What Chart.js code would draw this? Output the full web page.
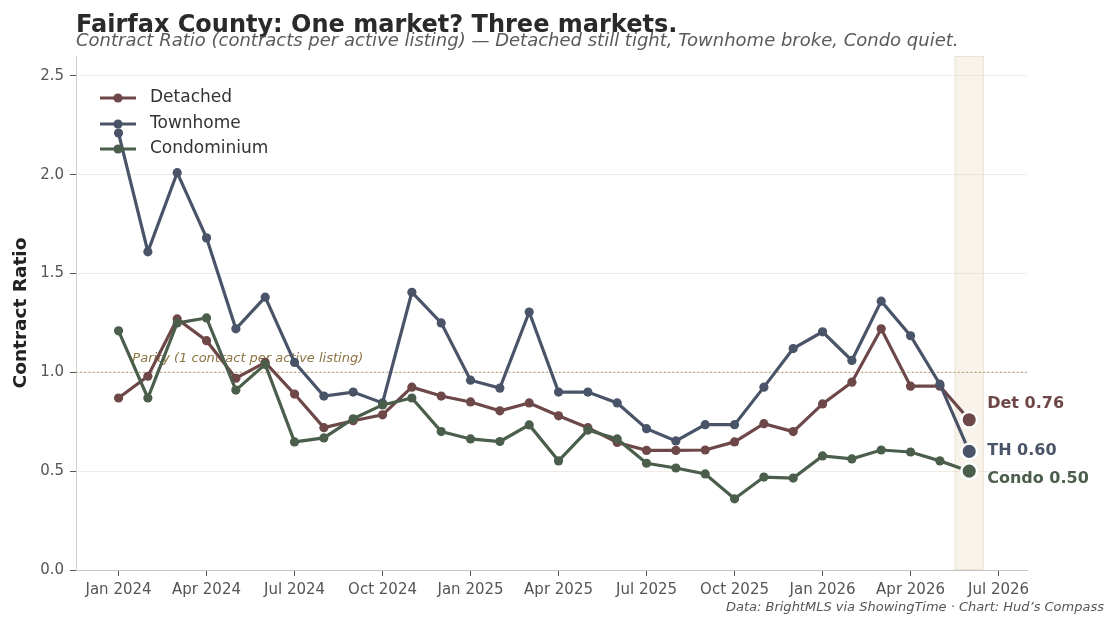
<!DOCTYPE html>
<html><head><meta charset="utf-8">
<script src="https://cdn.jsdelivr.net/npm/chart.js@4.4.1/dist/chart.umd.min.js"></script>
<style>html,body{margin:0;padding:0;background:#fff;}#wrap{width:1117px;height:626px;}</style>
</head><body><div id="wrap"><canvas id="c" width="1117" height="626"></canvas></div>
<script>
// Months Jan 2024 .. Jun 2026 (index 0..29)
const months = ['2024-01','2024-02','2024-03','2024-04','2024-05','2024-06','2024-07','2024-08','2024-09','2024-10','2024-11','2024-12',
  '2025-01','2025-02','2025-03','2025-04','2025-05','2025-06','2025-07','2025-08','2025-09','2025-10','2025-11','2025-12',
  '2026-01','2026-02','2026-03','2026-04','2026-05','2026-06'];
const detached = [0.87,0.98,1.27,1.16,0.97,1.05,0.89,0.72,0.755,0.785,0.925,0.88,0.85,0.805,0.845,0.78,0.72,0.645,0.605,0.605,0.607,0.648,0.74,0.70,0.84,0.95,1.22,0.93,0.93,0.76];
const townhome = [2.21,1.61,2.01,1.68,1.22,1.38,1.05,0.88,0.90,0.845,1.405,1.25,0.96,0.92,1.305,0.90,0.90,0.845,0.715,0.653,0.735,0.735,0.925,1.12,1.205,1.06,1.36,1.185,0.94,0.60];
const condo = [1.21,0.87,1.25,1.275,0.91,1.04,0.648,0.668,0.765,0.835,0.87,0.70,0.663,0.65,0.734,0.552,0.708,0.663,0.54,0.516,0.486,0.36,0.47,0.465,0.577,0.562,0.607,0.597,0.552,0.50];
const seriesNames = ['Detached','Townhome','Condominium'];
const endTags = ['Det','TH','Condo'];
const tickMonths = [0,3,6,9,12,15,18,21,24,27,30];
const tickLabels = ['Jan 2024','Apr 2024','Jul 2024','Oct 2024','Jan 2025','Apr 2025','Jul 2025','Oct 2025','Jan 2026','Apr 2026','Jul 2026'];
const yTicks = [0,0.5,1.0,1.5,2.0,2.5];
const parityValue = 1.0;
const bandRange = [28.5, 29.5];

const colors = ['#6e4848','#4a5468','#4a5e4b'];
const FONT = "'DejaVu Sans', sans-serif";
const last = months.length - 1;

function ds(label, data, color, order){
  return {
    label, order,
    data: data.map((v,i)=>({x:i,y:v})),
    borderColor: color, backgroundColor: color,
    borderWidth: 3.2, tension: 0, clip: false,
    pointRadius: c => c.dataIndex===last ? 7.8 : 4.6,
    pointBackgroundColor: color,
    pointBorderColor: c => c.dataIndex===last ? '#ffffff' : color,
    pointBorderWidth: c => c.dataIndex===last ? 2.5 : 0,
  };
}

const labelDy = [-16, -1, 8];

const decor = {
  id:'decor',
  beforeDatasetsDraw(chart){
    const {ctx, chartArea:a, scales:{x,y}} = chart;
    ctx.save();
    const x0 = x.getPixelForValue(bandRange[0]), x1 = x.getPixelForValue(bandRange[1]);
    ctx.fillStyle = 'rgba(226,212,178,0.28)';
    ctx.fillRect(x0, a.top, x1-x0, a.bottom-a.top);
    ctx.strokeStyle = 'rgba(215,200,165,0.35)'; ctx.lineWidth = 1;
    ctx.strokeRect(x0+0.5, a.top+0.5, x1-x0-1, a.bottom-a.top-1);
    const py = y.getPixelForValue(parityValue);
    ctx.setLineDash([1.6,2.6]); ctx.strokeStyle = '#b49c70'; ctx.lineWidth = 1.3;
    ctx.beginPath(); ctx.moveTo(a.left, py); ctx.lineTo(a.right, py); ctx.stroke();
    ctx.setLineDash([]);
    ctx.font = "italic 13px " + FONT; ctx.fillStyle = '#8c7444';
    ctx.textBaseline = 'alphabetic'; ctx.textAlign = 'left';
    ctx.fillText('Parity (1 contract per active listing)', x.getPixelForValue(0.47), py-10);
    ctx.restore();
  },
  afterDraw(chart){
    const {ctx, chartArea:a, scales:{x,y}} = chart;
    ctx.save();
    ctx.textAlign='left'; ctx.textBaseline='alphabetic';
    ctx.fillStyle='#2a2a2a'; ctx.font = "bold 24px " + FONT;
    ctx.fillText('Fairfax County: One market? Three markets.', 76, 32);
    ctx.fillStyle='#5a5a5a'; ctx.font = "italic 18px " + FONT;
    ctx.fillText('Contract Ratio (contracts per active listing) \u2014 Detached still tight, Townhome broke, Condo quiet.', 76, 46);
    ctx.textAlign='right'; ctx.font = "italic 13px " + FONT; ctx.fillStyle='#555';
    ctx.fillText('Data: BrightMLS via ShowingTime \u00b7 Chart: Hud\u2019s Compass', 1104, 611);
    // legend
    const rows = [98,124,149];
    ctx.textAlign='left'; ctx.textBaseline='middle'; ctx.font = "17px " + FONT;
    seriesNames.forEach((n,i)=>{
      ctx.strokeStyle = colors[i]; ctx.lineWidth = 3.2;
      ctx.beginPath(); ctx.moveTo(100, rows[i]); ctx.lineTo(136, rows[i]); ctx.stroke();
      ctx.fillStyle = colors[i];
      ctx.beginPath(); ctx.arc(118, rows[i], 4.6, 0, Math.PI*2); ctx.fill();
      ctx.fillStyle = '#333'; ctx.fillText(n, 150, rows[i]);
    });
    // end labels
    const vals = [detached[last], townhome[last], condo[last]];
    ctx.font = "bold 16px " + FONT;
    vals.forEach((v,i)=>{
      ctx.fillStyle = colors[i];
      ctx.fillText(endTags[i] + ' ' + v.toFixed(2), x.getPixelForValue(last)+18, y.getPixelForValue(v)+labelDy[i]);
    });
    ctx.restore();
  }
};

new Chart(document.getElementById('c'), {
  type:'line',
  data:{ datasets:[ ds(seriesNames[0], detached, colors[0], 2), ds(seriesNames[1], townhome, colors[1], 1), ds(seriesNames[2], condo, colors[2], 0) ] },
  options:{
    responsive:false, animation:false, devicePixelRatio:1,
    layout:{ padding:{ left:0, top:56, right:90, bottom:0 } },
    plugins:{ legend:{display:false}, tooltip:{enabled:false}, title:{display:false} },
    scales:{
      x:{ type:'linear', min:-1.45, max:30.97,
        afterBuildTicks: s => { s.ticks = tickMonths.map(v=>({value:v})); },
        afterFit: s => { s.height = 56; },
        ticks:{ callback: v => tickLabels[tickMonths.indexOf(v)], color:'#555', font:{family:FONT,size:15}, padding:5, maxRotation:0, autoSkip:false },
        grid:{ display:true, drawOnChartArea:false, drawTicks:true, tickLength:6, tickColor:'#555' },
        border:{ display:true, color:'#c4c4c4', width:1 }
      },
      y:{ min:0, max:2.6,
        afterBuildTicks: s => { s.ticks = yTicks.map(v=>({value:v})); },
        afterFit: s => { s.width = 76; },
        ticks:{ callback: v => v.toFixed(1), color:'#555', font:{family:FONT,size:15}, padding:6 },
        grid:{ color:'#efece6', lineWidth:1, drawTicks:true, tickLength:6, tickColor:'#555' },
        border:{ display:true, color:'#cfcfcf', width:1 },
        title:{ display:true, text:'Contract Ratio', color:'#222', font:{family:FONT,size:18.5,weight:'bold'}, padding:{top:10,bottom:0} }
      }
    }
  },
  plugins:[decor]
});
</script></body></html>
